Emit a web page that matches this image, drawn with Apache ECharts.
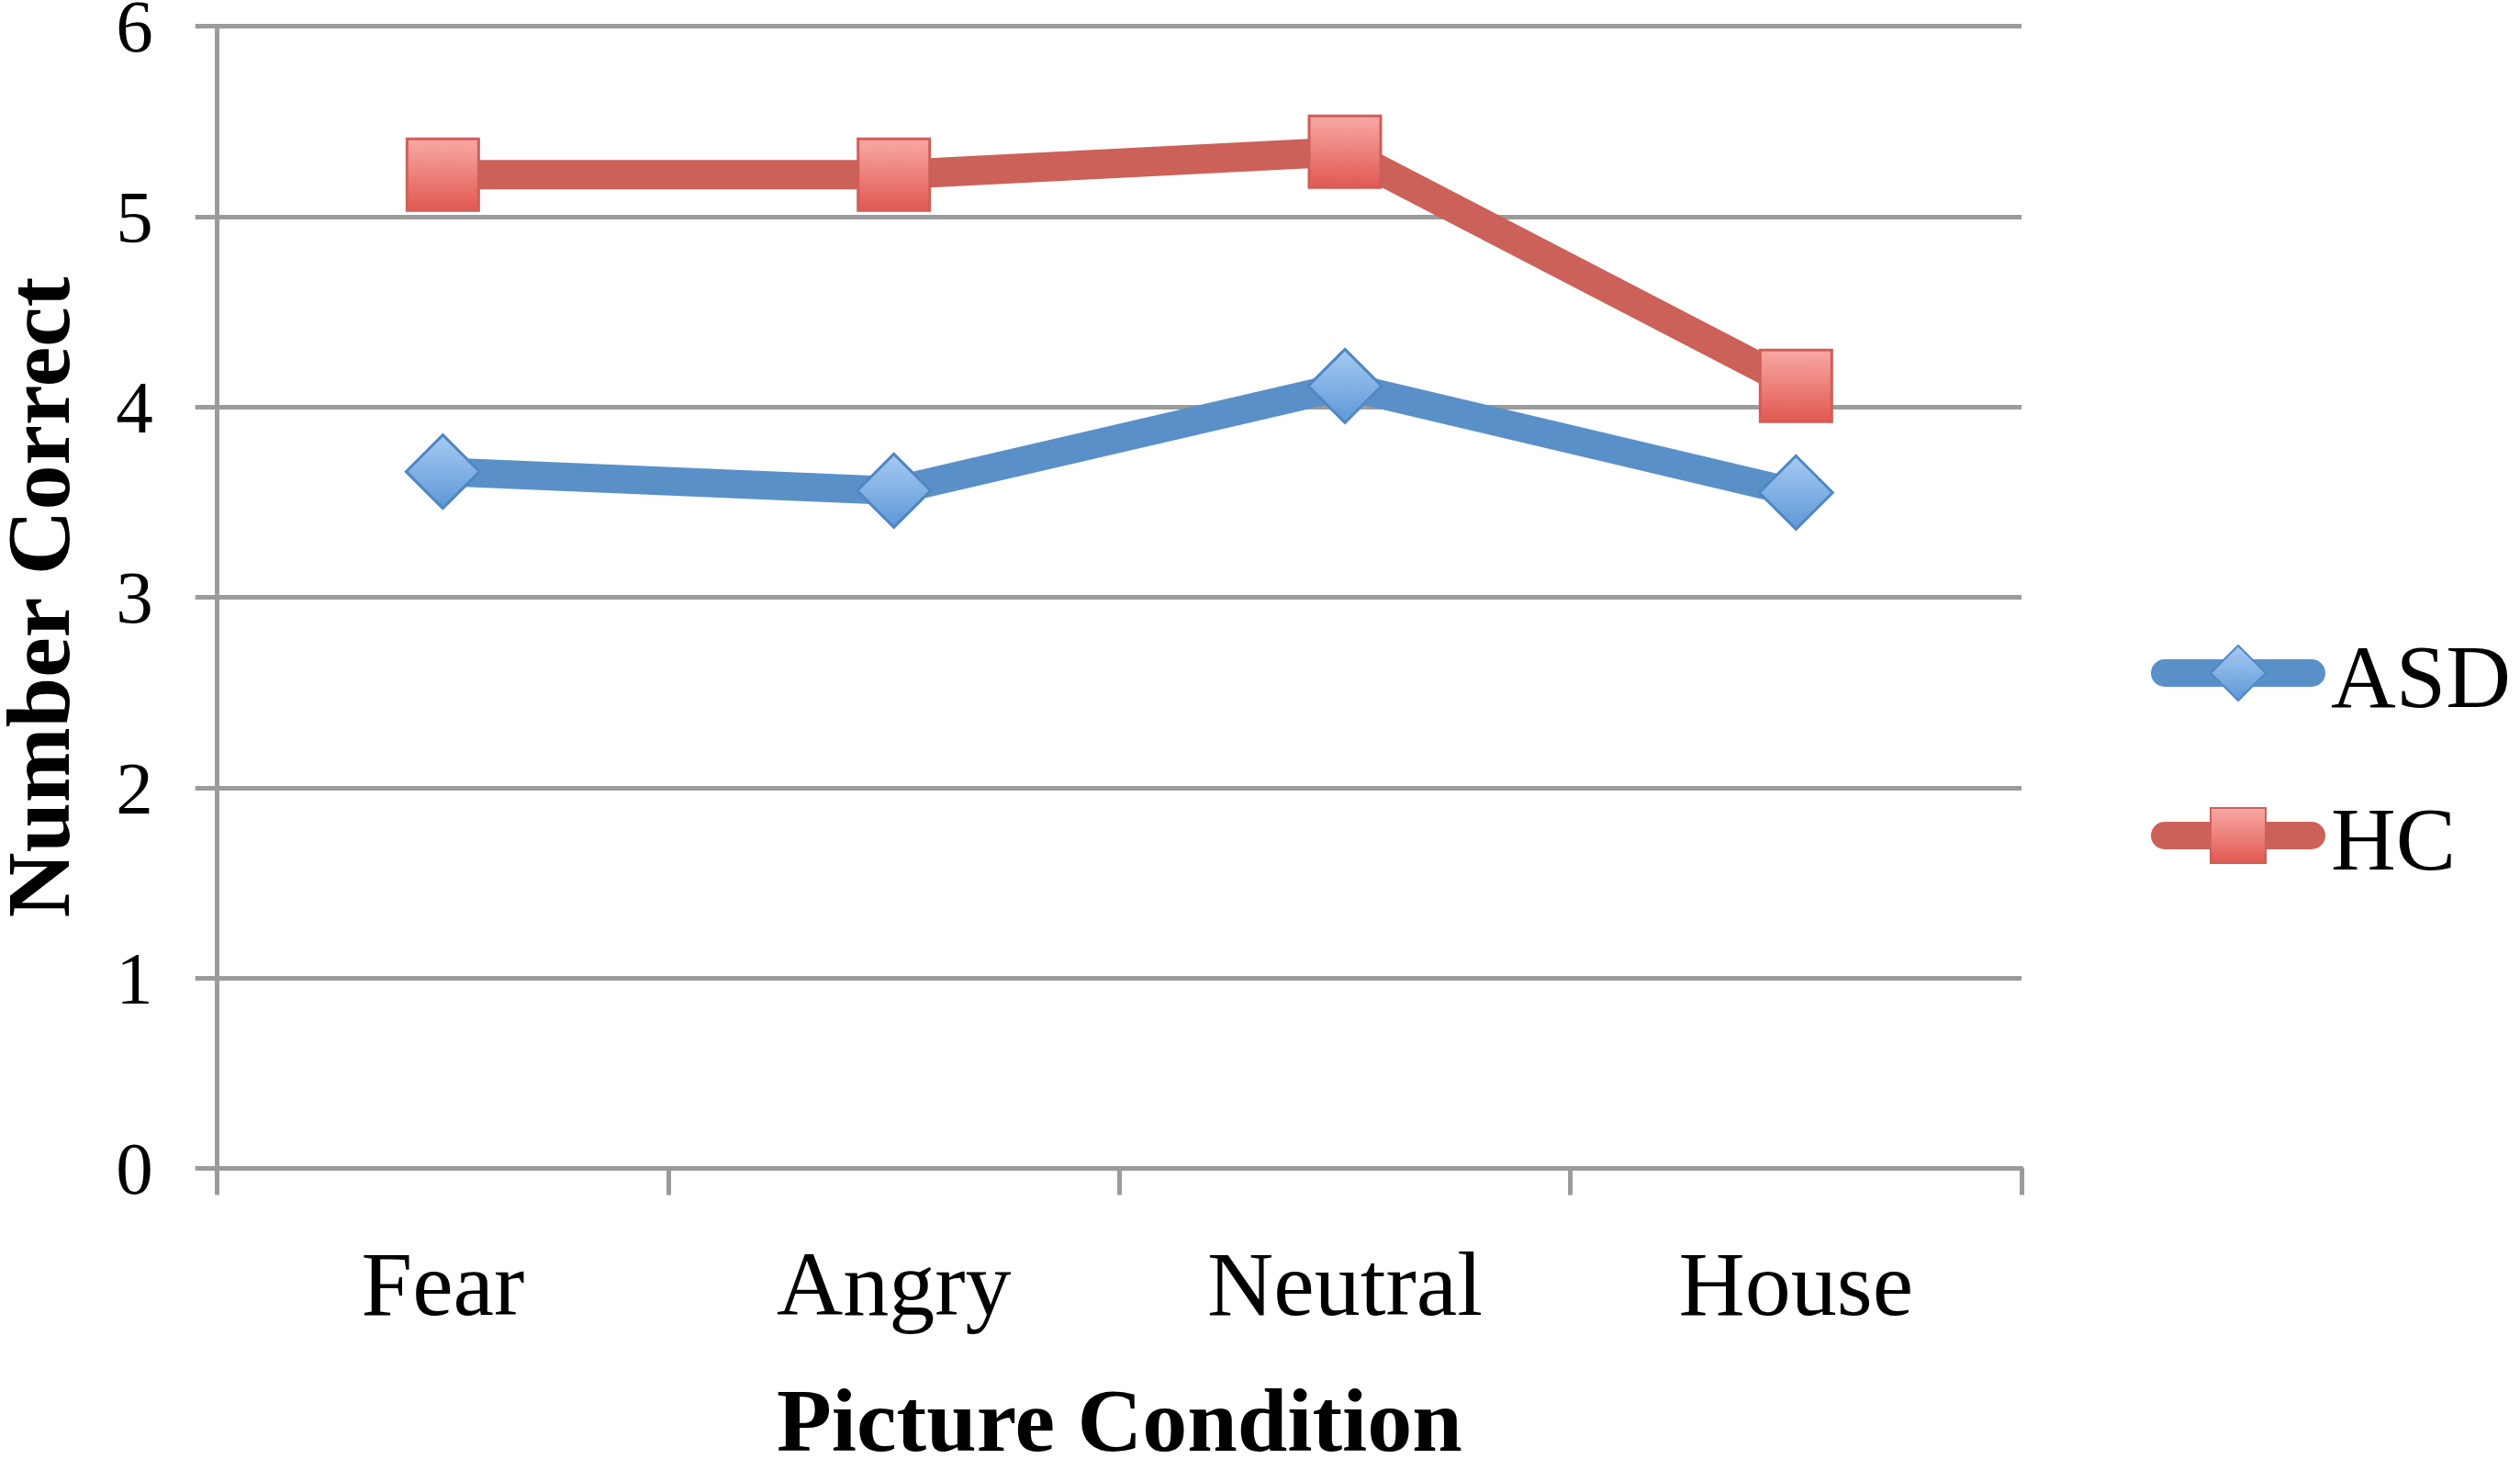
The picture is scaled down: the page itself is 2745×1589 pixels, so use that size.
<!DOCTYPE html>
<html>
<head>
<meta charset="utf-8">
<script src="https://cdn.jsdelivr.net/npm/echarts@6/dist/echarts.min.js"></script>
<style>
  html, body { margin: 0; padding: 0; background: #ffffff; }
  #chart { width: 2745px; height: 1589px; }
</style>
</head>
<body>
<div id="chart"></div>
<script>
// Data
const categories = ['Fear', 'Angry', 'Neutral', 'House'];
const asdValues = [3.66, 3.56, 4.11, 3.55];
const hcValues = [5.22, 5.22, 5.34, 4.11];
const seriesNames = ['ASD', 'HC'];
const xTitle = 'Picture Condition';
const yTitle = 'Number Correct';
const yMin = 0, yMax = 6, yStep = 1;

const FONT = "'Liberation Serif', 'Times New Roman', serif";
const GRID_GRAY = '#9b9b9b';

const asdFill = { type: 'linear', x: 0, y: 0, x2: 0, y2: 1,
  colorStops: [{ offset: 0, color: '#a9cbf3' }, { offset: 1, color: '#5b97d6' }] };
const hcFill = { type: 'linear', x: 0, y: 0, x2: 0, y2: 1,
  colorStops: [{ offset: 0, color: '#f9aaa6' }, { offset: 1, color: '#e0574f' }] };

const chart = echarts.init(document.getElementById('chart'), null, { renderer: 'canvas' });

chart.setOption({
  animation: false,
  backgroundColor: '#ffffff',
  textStyle: { fontFamily: FONT, color: '#000000' },
  grid: { left: 236.7, right: 543, top: 28.5, bottom: 316.5, containLabel: false, outerBoundsMode: 'none' },
  legend: {
    show: true,
    orient: 'vertical',
    left: 2343,
    top: 673,
    padding: 0,
    itemWidth: 160,
    itemHeight: 75,
    itemGap: 57,
    textStyle: {
      fontFamily: FONT, fontSize: 98, color: '#000000',
      rich: {
        t: { fontFamily: FONT, fontSize: 98, color: '#000000', lineHeight: 98, padding: [22, 0, 0, 16] }
      }
    },
    formatter: function (name) { return '{t|' + name + '}'; },
    lineStyle: { width: 30, cap: 'round' },
    data: seriesNames,
    selectedMode: false
  },
  xAxis: {
    type: 'category',
    data: categories,
    boundaryGap: true,
    axisLine: { show: true, lineStyle: { color: GRID_GRAY, width: 5 } },
    axisTick: { show: true, length: 29, interval: 0, alignWithLabel: false,
      lineStyle: { color: GRID_GRAY, width: 5 } },
    axisLabel: { show: true, interval: 0, margin: 83, fontFamily: FONT, fontSize: 100, color: '#000000', hideOverlap: false },
    splitLine: { show: false },
    name: xTitle,
    nameLocation: 'middle',
    nameGap: 233,
    nameTextStyle: { fontFamily: FONT, fontSize: 98, fontWeight: 'bold', color: '#000000' }
  },
  yAxis: {
    type: 'value',
    min: yMin, max: yMax, interval: yStep,
    axisLine: { show: true, lineStyle: { color: GRID_GRAY, width: 5 } },
    axisTick: { show: true, inside: false, length: 24, lineStyle: { color: GRID_GRAY, width: 5 } },
    axisLabel: {
      show: true, margin: 70, fontFamily: FONT, fontSize: 81, color: '#000000',
      formatter: function (v) { return '{v|' + v + '}'; },
      rich: { v: { fontFamily: FONT, fontSize: 81, color: '#000000', lineHeight: 81, padding: [13, 0, 0, 0] } }
    },
    splitLine: { show: true, lineStyle: { color: GRID_GRAY, width: 5 } },
    name: yTitle,
    nameLocation: 'middle',
    nameGap: 138,
    nameTextStyle: { fontFamily: FONT, fontSize: 98, fontWeight: 'bold', color: '#000000' }
  },
  series: [
    {
      name: seriesNames[0],
      type: 'line',
      data: asdValues,
      symbol: 'diamond',
      symbolSize: [80, 80],
      lineStyle: { color: '#5a90c8', width: 31, cap: 'round', join: 'round' },
      itemStyle: { color: asdFill, borderColor: '#4f87c4', borderWidth: 3 },
      emphasis: { disabled: true },
      z: 3
    },
    {
      name: seriesNames[1],
      type: 'line',
      data: hcValues,
      symbol: 'rect',
      symbolSize: [78, 78],
      lineStyle: { color: '#cc6159', width: 32, cap: 'round', join: 'round' },
      itemStyle: { color: hcFill, borderColor: '#cf5f57', borderWidth: 3 },
      emphasis: { disabled: true },
      z: 3
    }
  ]
});
</script>
</body>
</html>
